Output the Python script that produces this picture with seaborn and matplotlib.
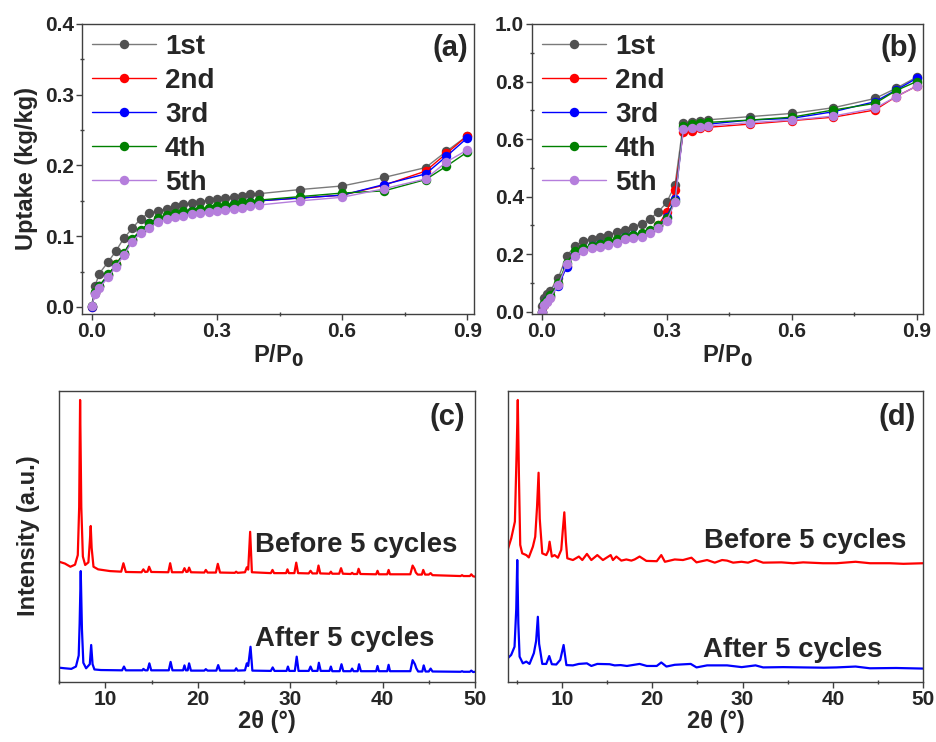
import numpy as np
import pandas as pd
import matplotlib
matplotlib.use("Agg")
import matplotlib.pyplot as plt
import seaborn as sns

sns.set_style("ticks")
plt.rcParams['font.family'] = ['Liberation Sans', 'DejaVu Sans']
plt.rcParams['font.weight'] = 'bold'
plt.rcParams['axes.labelweight'] = 'bold'

# ---------------- data ----------------
cycles = ["1st", "2nd", "3rd", "4th", "5th"]
cycle_colors = ["#7a7a7a", "#ff0000", "#0000ff", "#008000", "#b57edc"]
marker_colors = ["#505050", "#ff0000", "#0000ff", "#008000", "#b57edc"]

# (a) isotherms
pa = [0, 0.008, 0.018, 0.04, 0.058, 0.077, 0.097, 0.118, 0.138, 0.16, 0.18, 0.2, 0.22, 0.24,
      0.26, 0.28, 0.3, 0.32, 0.34, 0.36, 0.38, 0.4, 0.5, 0.6, 0.7, 0.8, 0.85, 0.9]
a_1st = [0.001, 0.029, 0.047, 0.064, 0.079, 0.097, 0.111, 0.125, 0.133, 0.136, 0.139, 0.142, 0.145, 0.147,
         0.149, 0.151, 0.152, 0.154, 0.156, 0.157, 0.159, 0.160, 0.166, 0.171, 0.183, 0.197, 0.220, 0.242]
a_2nd = [0.0, 0.019, 0.029, 0.045, 0.060, 0.075, 0.095, 0.108, 0.118, 0.125, 0.129, 0.132, 0.134, 0.136,
         0.137, 0.139, 0.141, 0.143, 0.145, 0.147, 0.148, 0.150, 0.154, 0.158, 0.172, 0.192, 0.217, 0.242]
a_3rd = [0.0, 0.020, 0.029, 0.045, 0.059, 0.075, 0.095, 0.108, 0.118, 0.125, 0.129, 0.132, 0.134, 0.136,
         0.137, 0.139, 0.141, 0.143, 0.145, 0.147, 0.148, 0.150, 0.154, 0.158, 0.173, 0.188, 0.213, 0.239]
a_4th = [0.001, 0.021, 0.030, 0.046, 0.060, 0.076, 0.096, 0.109, 0.119, 0.126, 0.130, 0.133, 0.135, 0.136,
         0.138, 0.140, 0.142, 0.144, 0.146, 0.148, 0.149, 0.151, 0.156, 0.161, 0.164, 0.180, 0.199, 0.219]
a_5th = [0.001, 0.018, 0.027, 0.042, 0.057, 0.073, 0.092, 0.105, 0.112, 0.120, 0.124, 0.127, 0.128, 0.131,
         0.133, 0.134, 0.136, 0.137, 0.139, 0.140, 0.142, 0.144, 0.150, 0.155, 0.167, 0.181, 0.205, 0.222]

# (b) isotherms
pb = [0, 0.005, 0.012, 0.02, 0.04, 0.06, 0.08, 0.1, 0.12, 0.14, 0.16, 0.18, 0.2, 0.22, 0.24, 0.26,
      0.28, 0.3, 0.32, 0.34, 0.36, 0.38, 0.4, 0.5, 0.6, 0.7, 0.8, 0.85, 0.9]
b_1st = [0.019, 0.046, 0.060, 0.072, 0.118, 0.194, 0.228, 0.247, 0.254, 0.261, 0.268, 0.276, 0.285, 0.296,
         0.305, 0.323, 0.347, 0.380, 0.440, 0.655, 0.660, 0.663, 0.667, 0.678, 0.689, 0.709, 0.741, 0.776, 0.815]
b_2nd = [0.0, 0.025, 0.038, 0.052, 0.097, 0.160, 0.200, 0.215, 0.225, 0.232, 0.238, 0.245, 0.255, 0.262,
         0.268, 0.280, 0.300, 0.347, 0.423, 0.625, 0.629, 0.637, 0.641, 0.652, 0.664, 0.676, 0.701, 0.747, 0.784]
b_3rd = [0.0, 0.028, 0.040, 0.055, 0.090, 0.156, 0.205, 0.218, 0.228, 0.235, 0.242, 0.250, 0.258, 0.265,
         0.270, 0.282, 0.298, 0.330, 0.390, 0.640, 0.645, 0.648, 0.652, 0.666, 0.672, 0.695, 0.730, 0.770, 0.811]
b_4th = [0.0, 0.030, 0.042, 0.058, 0.100, 0.170, 0.210, 0.220, 0.230, 0.237, 0.245, 0.252, 0.260, 0.266,
         0.272, 0.285, 0.300, 0.325, 0.385, 0.645, 0.651, 0.655, 0.658, 0.666, 0.676, 0.701, 0.724, 0.768, 0.800]
b_5th = [0.0, 0.023, 0.035, 0.049, 0.093, 0.165, 0.195, 0.212, 0.220, 0.226, 0.232, 0.240, 0.251, 0.257,
         0.261, 0.272, 0.290, 0.315, 0.382, 0.634, 0.640, 0.643, 0.646, 0.657, 0.666, 0.680, 0.707, 0.747, 0.784]

# (c) XRD patterns (2theta, intensity a.u.)
c_before_x = [5.0, 5.6, 6.2, 6.7, 7.0, 7.15, 7.25, 7.38, 7.55, 7.8, 8.15, 8.3, 8.4, 8.5, 8.7, 9.2, 10.5,
              11.7, 11.94, 12.2, 13.9, 14.1, 14.3, 14.55, 14.72, 14.95, 16.8, 17.0, 17.2, 18.35, 18.55,
              18.75, 18.9, 19.05, 19.25, 20.7, 20.86, 21.05, 21.95, 22.16, 22.4, 24.0, 24.14, 24.3, 25.1,
              25.3, 25.45, 25.66, 25.85, 27.9, 28.08, 28.25, 29.55, 29.7, 29.85, 30.45, 30.65, 30.85, 32.0,
              32.2, 32.4, 32.9, 33.06, 33.25, 34.25, 34.4, 34.55, 35.3, 35.5, 35.7, 36.55, 36.7, 36.85,
              37.25, 37.4, 37.6, 39.3, 39.45, 39.6, 40.5, 40.65, 40.8, 43.0, 43.25, 43.45, 43.6, 43.8,
              44.25, 44.4, 44.6, 45.0, 45.2, 45.4, 48.45, 48.6, 48.75, 49.45, 49.6, 49.8, 50.0]
c_before_y = [41.2, 40.6, 39.5, 40.2, 43.5, 60.0, 96.8, 60.0, 43.0, 40.1, 41.0, 48.0, 53.5, 46.0, 39.5,
              38.6, 38.0, 37.8, 40.7, 37.7, 37.6, 38.6, 37.7, 37.8, 39.5, 37.7, 37.6, 40.7, 37.6, 37.6,
              39.0, 37.7, 37.8, 39.2, 37.6, 37.5, 38.4, 37.5, 37.5, 40.5, 37.5, 37.4, 37.8, 37.4, 37.6,
              39.3, 38.5, 51.5, 37.6, 37.3, 38.4, 37.3, 37.3, 38.6, 37.3, 37.3, 40.9, 37.3, 37.2, 38.1,
              37.2, 37.2, 39.9, 37.2, 37.1, 37.8, 37.1, 37.1, 39.0, 37.1, 37.0, 37.4, 37.0, 37.0, 38.8,
              37.0, 36.9, 38.1, 36.9, 36.9, 38.4, 36.9, 36.9, 39.9, 38.8, 37.5, 36.8, 36.8, 38.4, 36.8,
              36.8, 37.3, 36.6, 36.3, 36.6, 36.3, 36.3, 36.9, 36.2, 36.1]
c_after_x = [5.0, 5.6, 6.3, 6.8, 7.1, 7.2, 7.32, 7.45, 7.6, 7.9, 8.3, 8.45, 8.6, 8.8, 9.5, 11.8, 12.0,
             12.2, 14.0, 14.1, 14.3, 14.55, 14.75, 14.95, 16.85, 17.05, 17.25, 18.4, 18.55, 18.7, 18.9,
             19.05, 19.25, 20.7, 20.86, 21.05, 22.0, 22.2, 22.4, 24.0, 24.15, 24.3, 25.1, 25.3, 25.45,
             25.7, 25.9, 27.9, 28.1, 28.3, 29.6, 29.75, 29.9, 30.5, 30.7, 30.9, 32.0, 32.2, 32.4, 32.95,
             33.1, 33.3, 34.25, 34.4, 34.55, 35.35, 35.55, 35.75, 36.55, 36.7, 36.85, 37.3, 37.45, 37.65,
             39.3, 39.45, 39.6, 40.5, 40.65, 40.8, 43.0, 43.25, 43.5, 43.65, 43.85, 44.3, 44.45, 44.65,
             45.0, 45.2, 45.4, 48.45, 48.6, 48.75, 49.45, 49.6, 49.8, 50.0]
c_after_y = [4.8, 4.6, 4.4, 5.2, 9.0, 20.0, 38.0, 18.0, 6.5, 4.6, 6.0, 12.6, 6.0, 4.2, 4.0, 3.9, 5.2,
             3.9, 3.9, 4.4, 3.9, 3.9, 6.3, 3.9, 3.9, 6.8, 3.9, 3.9, 5.6, 3.9, 3.9, 6.3, 3.8, 3.8, 4.3,
             3.8, 3.8, 5.7, 3.8, 3.8, 4.6, 3.8, 3.9, 6.3, 5.4, 12.0, 3.8, 3.7, 4.9, 3.7, 3.7, 5.2, 3.7,
             3.7, 8.6, 3.7, 3.7, 5.2, 3.7, 3.7, 6.5, 3.7, 3.7, 5.2, 3.6, 3.6, 6.0, 3.6, 3.6, 4.5, 3.6,
             3.6, 6.0, 3.6, 3.6, 5.4, 3.6, 3.6, 5.8, 3.6, 3.6, 7.4, 6.0, 4.6, 3.5, 3.5, 5.6, 3.5, 3.5,
             4.5, 3.5, 3.4, 3.6, 3.4, 3.4, 3.8, 3.3, 3.4]

# (d) XRD patterns
d_before_x = [4.0, 4.4, 4.8, 5.0, 5.12, 5.25, 5.39, 5.61, 6.06, 6.34, 6.79, 7.05, 7.25, 7.42, 7.55, 7.61,
              7.83, 8.27, 8.5, 8.64, 8.89, 9.19, 9.56, 9.93, 10.1, 10.27, 10.45, 10.6, 11.22, 11.88, 12.26,
              12.77, 13.26, 13.92, 14.54, 15.4, 15.65, 16.03, 16.58, 17.13, 17.69, 18.05, 18.6, 19.35, 20.5,
              21.0, 21.4, 22.49, 23.4, 24.34, 24.9, 26.07, 26.92, 27.73, 28.28, 28.95, 29.88, 30.6, 31.43,
              32.27, 34.3, 35.6, 36.7, 38.9, 40.4, 42.5, 44.1, 46.3, 47.8, 50.0]
d_before_y = [45.3, 49.3, 55.0, 80.0, 96.8, 70.0, 47.0, 44.1, 43.5, 42.7, 46.4, 49.8, 60.0, 71.8, 56.0,
              53.3, 44.1, 43.5, 45.0, 48.1, 43.0, 43.5, 42.6, 45.3, 52.0, 58.2, 48.0, 42.4, 41.8, 43.0,
              41.8, 43.9, 41.8, 43.5, 41.8, 43.5, 41.8, 43.0, 41.6, 42.0, 41.6, 42.0, 43.0, 41.5, 41.4,
              43.5, 41.2, 42.0, 41.8, 42.6, 41.0, 41.8, 40.9, 41.8, 41.6, 40.9, 41.2, 40.9, 41.8, 40.9,
              41.0, 40.7, 41.0, 40.7, 40.7, 41.2, 40.7, 40.7, 40.5, 40.7]
d_after_x = [4.0, 4.39, 4.76, 4.95, 5.06, 5.18, 5.32, 5.68, 6.06, 6.42, 6.9, 7.15, 7.34, 7.48, 7.56, 7.83,
             8.27, 8.6, 8.89, 9.38, 9.82, 10.19, 10.5, 11.22, 11.88, 12.77, 13.26, 13.92, 15.28, 15.84,
             16.5, 17.2, 18.6, 19.4, 20.5, 21.0, 21.57, 22.49, 24.26, 24.9, 26.07, 27.73, 28.28, 29.9,
             31.43, 32.27, 34.5, 36.7, 39.0, 40.4, 42.5, 44.1, 47.0, 50.0]
d_after_y = [8.0, 9.2, 12.0, 25.0, 41.8, 20.0, 8.6, 6.3, 6.9, 6.1, 9.8, 14.0, 22.3, 13.0, 11.5, 6.1,
             6.1, 8.8, 6.0, 5.9, 7.5, 12.6, 5.7, 5.6, 6.1, 6.3, 5.4, 6.1, 6.0, 5.6, 5.7, 5.4, 6.1, 5.4,
             5.4, 6.6, 5.2, 5.8, 6.1, 4.9, 5.6, 5.6, 5.6, 5.0, 5.6, 4.9, 5.0, 4.9, 4.8, 4.9, 5.2, 4.6,
             4.7, 4.5]

# ---------------- figure ----------------
fig = plt.figure(figsize=(9.37, 7.42), dpi=100)
ax_a = fig.add_axes([0.0878, 0.5768, 0.4181, 0.3909])
ax_b = fig.add_axes([0.5681, 0.5768, 0.4173, 0.3909])
ax_c = fig.add_axes([0.0633, 0.0813, 0.4436, 0.3922])
ax_d = fig.add_axes([0.5418, 0.0813, 0.4436, 0.3922])

spine_col = "#404040"
tick_fs = 15
label_fs = 17

def style_axes(ax):
    for s in ax.spines.values():
        s.set_visible(True)
        s.set_color(spine_col)
        s.set_linewidth(1.0)
    ax.tick_params(which='major', direction='out', length=4, width=1, color=spine_col,
                   labelsize=tick_fs, pad=2)
    ax.tick_params(which='minor', direction='inout', length=3, width=1, color=spine_col)
    for lab in ax.get_xticklabels() + ax.get_yticklabels():
        lab.set_fontweight('bold')

iso_sets = [
    (ax_a, pa, [a_1st, a_2nd, a_3rd, a_4th, a_5th], (-0.01, 0.4), [0.0, 0.1, 0.2, 0.3, 0.4], "(a)", 0.9855),
    (ax_b, pb, [b_1st, b_2nd, b_3rd, b_4th, b_5th], (-0.008, 1.0), [0.0, 0.2, 0.4, 0.6, 0.8, 1.0], "(b)", 0.987),
]
for ax, px, series, ylim, yt, tag, tx in iso_sets:
    for name, col, mcol, vals in zip(cycles, cycle_colors, marker_colors, series):
        df = pd.DataFrame({"P": px, "U": vals})
        sns.lineplot(data=df, x="P", y="U", ax=ax, color=col, marker='o', markersize=6.8,
                     markerfacecolor=mcol, markeredgewidth=0, linewidth=1.0,
                     estimator=None, sort=False, label=name)
    ax.set_xlim(-0.0225, 0.916)
    ax.set_ylim(*ylim)
    ax.set_xticks([0.0, 0.3, 0.6, 0.9])
    ax.set_xticks([0.15, 0.45, 0.75], minor=True)
    ax.set_yticks(yt)
    ax.yaxis.set_minor_locator(matplotlib.ticker.AutoMinorLocator(2))
    ax.xaxis.set_major_formatter(matplotlib.ticker.FormatStrFormatter('%.1f'))
    ax.yaxis.set_major_formatter(matplotlib.ticker.FormatStrFormatter('%.1f'))
    ax.set_xlabel(r"P/P$_\mathbf{0}$", fontsize=label_fs, fontweight='bold', labelpad=1)
    ax.set_ylabel("")
    style_axes(ax)
    leg = ax.legend(loc='upper left', bbox_to_anchor=(0.0, 1.0), frameon=False, fontsize=20,
                    handlelength=2.3, handletextpad=0.33, labelspacing=0.29, borderaxespad=0.15,
                    borderpad=0.2)
    for t in leg.get_texts():
        t.set_fontweight('bold')
    ax.text(tx, 0.965, tag, transform=ax.transAxes, ha='right', va='top', fontsize=21,
            fontweight='bold')

ax_a.set_ylabel("Uptake (kg/kg)", fontsize=label_fs, fontweight='bold', labelpad=5)

xrd_sets = [
    (ax_c, c_before_x, c_before_y, c_after_x, c_after_y, (5, 50), (26.2, 44.7), (26.2, 12.3), "(c)", 0.976),
    (ax_d, d_before_x, d_before_y, d_after_x, d_after_y, (4, 50), (25.7, 45.8), (25.6, 8.6), "(d)", 0.982),
]
for ax, bx, by, afx, afy, xl, tb, ta, tag, tx in xrd_sets:
    sns.lineplot(x=bx, y=by, ax=ax, color="#ff0000", linewidth=1.6, estimator=None, sort=False)
    sns.lineplot(x=afx, y=afy, ax=ax, color="#0000ff", linewidth=1.6, estimator=None, sort=False)
    ax.set_xlim(*xl)
    ax.set_ylim(0, 100)
    ax.set_xticks([10, 20, 30, 40, 50])
    ax.set_xticks([5, 15, 25, 35, 45], minor=True)
    ax.set_yticks([])
    ax.set_xlabel("2θ (°)", fontsize=label_fs, fontweight='bold', labelpad=1)
    style_axes(ax)
    ax.text(tb[0], tb[1], "Before 5 cycles", fontsize=19.8, fontweight='bold', va='baseline')
    ax.text(ta[0], ta[1], "After 5 cycles", fontsize=19.8, fontweight='bold', va='baseline')
    ax.text(tx, 0.957, tag, transform=ax.transAxes, ha='right', va='top', fontsize=21,
            fontweight='bold')

ax_c.set_ylabel("Intensity (a.u.)", fontsize=label_fs, fontweight='bold', labelpad=14)

fig.savefig("out.png", dpi=100)
